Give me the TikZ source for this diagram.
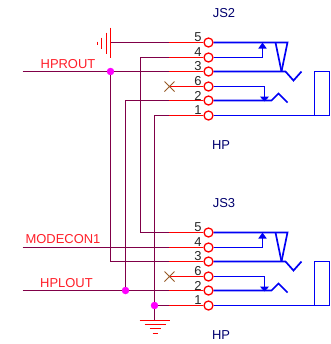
\documentclass[tikz,border=0pt]{standalone}
\usepackage{fontspec}
\setmainfont{Liberation Sans}
\usetikzlibrary{arrows.meta}
\definecolor{wirecol}{RGB}{128,0,72}
\definecolor{netcol}{RGB}{255,30,40}
\definecolor{jackcol}{RGB}{0,0,245}
\definecolor{refcol}{RGB}{0,0,110}
\definecolor{nccol}{RGB}{150,90,40}
\definecolor{dotcol}{RGB}{255,0,255}
\tikzset{
    wire/.style={draw=wirecol, line width=1.3bp},
    stub/.style={draw=red, line width=1.5bp},
    jackline/.style={draw=jackcol, line width=1.7bp},
    gndbar/.style={draw=red, line width=1.3bp},
    pinnode/.style={circle, draw=red, fill=white, line width=1.3bp, minimum size=9bp, inner sep=0pt},
    pinnum/.style={font=\fontsize{13}{13}\selectfont, text=black!85, inner sep=0pt},
    netlabel/.style={font=\fontsize{13}{13}\selectfont, text=netcol, inner sep=0pt},
    reflabel/.style={font=\fontsize{13}{13}\selectfont, text=refcol, inner sep=0pt},
    dotnode/.style={circle, fill=dotcol, minimum size=7.5bp, inner sep=0pt},
}
\begin{document}
\begin{tikzpicture}[x=1bp, y=-1bp]
    \useasboundingbox (0,0) rectangle (331,344);
    \begin{scope}[shift={(0.5,0.5)}]
    % two jacks, same drawing
    \foreach \jk/\dy/\refname in {a/0/JS2, b/190/JS3} {
        \begin{scope}[shift={(0,\dy)}]
            \foreach \n/\y in {5/42, 4/57, 3/71, 6/86, 2/100, 1/115} {
                \coordinate (\jk\n t) at (168,\y);
                \node[pinnode] (\jk\n) at (208,\y) {};
                \draw[stub] (\jk\n t) -- (\jk\n);
                \node[pinnum] (\jk\n num) at (197.5,\y-5) {\n};
            }
            \node[reflabel] (\jk ref) at (223.5,13) {\refname};
            \node[reflabel] (\jk hp) at (220.5,145) {HP};
            \draw[jackline] (\jk5) -- (287,42) -- (281,71);
            \draw[jackline] (275,42) -- (281,71);
            \draw[jackline] (\jk3) -- (285,71) -- (293,80) -- (301,71);
            \draw[jackline, -{Triangle[width=8bp,length=6bp]}] (\jk4) -- (262,57) -- (262,42);
            \draw[jackline, -{Triangle[width=9bp,length=5bp]}] (\jk6) -- (264,86) -- (264,101);
            \draw[jackline] (\jk2) -- (271,100) -- (278,93) -- (287,102);
            \draw[jackline] (\jk1) -- (329,115) -- (329,71) -- (314,71) -- (314,115);
            % no connect on pin 6
            \draw[draw=nccol, line width=0.9bp] (164,81) -- (174,91) (164,91) -- (174,81);
        \end{scope}
    }
    \node[dotnode] (jrout) at (110,71) {};
    \node[dotnode] (jlout) at (125,290) {};
    \node[dotnode] (jgnd) at (154,305) {};
    \coordinate (hproutend) at (22,71);
    \coordinate (modeend) at (22,247);
    \coordinate (hploutend) at (22,290);
    \coordinate (gndtop) at (110,42);
    \coordinate (gndbot) at (154,320);
    \draw[wire] (gndtop) -- (a5t);
    \draw[wire] (a4t) -- (140,57) |- (b5t);
    \draw[wire] (hproutend) -- (jrout);
    \draw[wire] (jrout) -- (a3t);
    \draw[wire] (jrout) |- (b3t);
    \draw[wire] (a2t) -- (125,100) -- (jlout);
    \draw[wire] (a1t) -- (154,115) -- (jgnd);
    \draw[wire] (modeend) -- (b4t);
    \draw[wire] (hploutend) -- (jlout);
    \draw[wire] (jlout) -- (b2t);
    \draw[wire] (jgnd) -- (b1t);
    \draw[wire] (jgnd) -- (gndbot);
    \node[netlabel] (hproutlbl) at (67.5,64) {HPROUT};
    \node[netlabel] (modelbl) at (62.5,239) {MODECON1};
    \node[netlabel] (hploutlbl) at (66,283) {HPLOUT};
    % grounds
    \draw[gndbar] (110,27) -- (110,57);
    \draw[gndbar] (106,32) -- (106,53);
    \draw[gndbar] (101,37) -- (101,48);
    \draw[gndbar] (97,41) -- (97,44);
    \draw[gndbar] (139,320) -- (169,320);
    \draw[gndbar] (144,324) -- (165,324);
    \draw[gndbar] (149,328) -- (160,328);
    \draw[gndbar] (152,333) -- (157,333);
    \end{scope}
\end{tikzpicture}
\end{document}
